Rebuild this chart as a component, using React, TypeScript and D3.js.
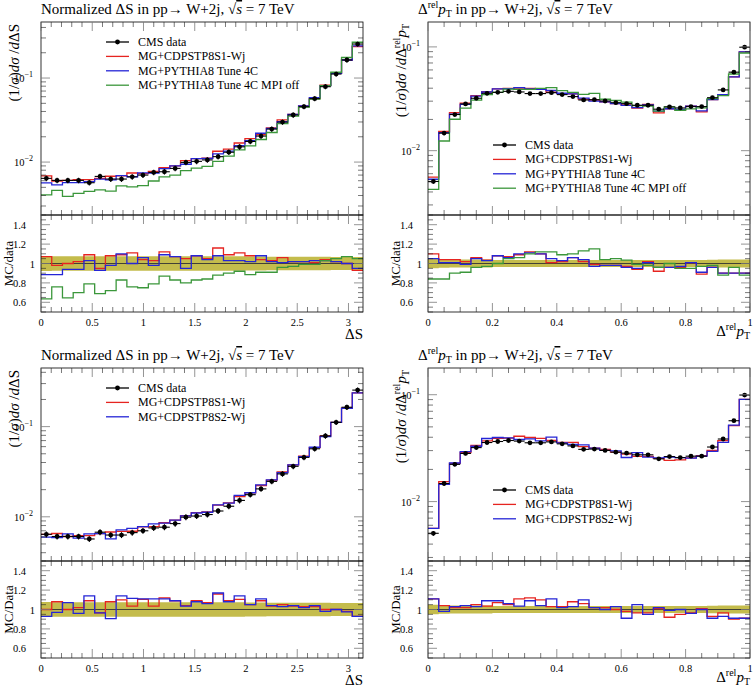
import React from 'react';
import * as d3 from 'd3';

const N_BINS = 30;
const DS_MAX = Math.PI;
const PT_MAX = 1;

// ---- Delta S distribution (normalized) ----
const DS_DATA = [0.0064, 0.00605, 0.00605, 0.00605, 0.00568, 0.00675, 0.00628, 0.00628, 0.00668, 0.0070,
  0.00753, 0.00767, 0.00841, 0.00991, 0.0102, 0.0106, 0.0116, 0.0131, 0.0152, 0.0176,
  0.0204, 0.0247, 0.0299, 0.0363, 0.0456, 0.0568, 0.0789, 0.1116, 0.164, 0.254];
const DS_ERR = [0.077, 0.075, 0.075, 0.075, 0.075, 0.075, 0.075, 0.075, 0.075, 0.075,
  0.075, 0.075, 0.075, 0.075, 0.075, 0.075, 0.075, 0.075, 0.075, 0.072,
  0.072, 0.07, 0.07, 0.07, 0.07, 0.07, 0.07, 0.068, 0.068, 0.068];
const DS_R_S1_TOP = [1.07, 0.98, 1.0, 1.02, 1.09, 0.95, 1.08, 1.09, 1.11, 1.04,
  1.03, 1.12, 1.07, 1.05, 1.08, 1.05, 1.16, 1.09, 1.11, 1.08,
  1.04, 1.03, 1.06, 1.02, 1.02, 1.01, 1.04, 1.02, 1.0, 0.93];
const DS_R_4C = [0.885, 0.885, 0.94, 0.94, 1.03, 0.93, 0.98, 1.1, 1.0, 1.06,
  0.98, 1.09, 1.07, 0.95, 1.08, 1.04, 1.08, 1.03, 1.03, 1.02,
  1.08, 1.02, 1.01, 1.02, 1.02, 1.03, 1.03, 1.02, 1.0, 0.95];
const DS_R_MPIOFF = [0.635, 0.76, 0.645, 0.70, 0.79, 0.69, 0.72, 0.83, 0.76, 0.75,
  0.79, 0.87, 0.83, 0.80, 0.83, 0.84, 0.88, 0.90, 0.92, 0.885,
  0.91, 0.91, 0.96, 0.97, 0.99, 0.99, 1.03, 1.05, 1.07, 1.05];
const DS_R_S1_BOT = [1.0, 1.08, 1.0, 1.02, 1.09, 0.965, 1.08, 1.10, 1.035, 1.105,
  1.035, 1.12, 1.09, 1.04, 1.09, 1.07, 1.16, 1.09, 1.105, 1.05,
  1.09, 1.035, 1.05, 1.035, 1.03, 1.03, 1.0, 1.0, 0.98, 0.93];
const DS_R_S2 = [0.93, 0.97, 1.07, 0.96, 1.14, 0.965, 0.905, 1.14, 1.115, 1.11,
  1.11, 1.11, 1.09, 1.035, 1.08, 1.06, 1.17, 1.08, 1.14, 1.05,
  1.11, 1.04, 1.03, 1.04, 1.02, 1.04, 0.98, 1.0, 0.975, 0.93];

// ---- Delta^rel pT distribution (normalized) ----
const PT_DATA = [0.00505, 0.01476, 0.0223, 0.0282, 0.0320, 0.0357, 0.0365, 0.0373, 0.0368, 0.0355,
  0.0355, 0.0362, 0.0347, 0.0332, 0.0308, 0.0310, 0.0301, 0.0290, 0.0284, 0.0274,
  0.0274, 0.0251, 0.0264, 0.0258, 0.0266, 0.0266, 0.0324, 0.0385, 0.0571, 0.0993];
const PT_ERR = [0.05, 0.045, 0.04, 0.04, 0.04, 0.04, 0.035, 0.035, 0.035, 0.035,
  0.035, 0.035, 0.035, 0.035, 0.035, 0.035, 0.035, 0.035, 0.035, 0.035,
  0.035, 0.035, 0.035, 0.035, 0.035, 0.035, 0.038, 0.04, 0.04, 0.04];
const PT_R_S1_TOP = [1.10, 1.04, 1.04, 1.02, 1.06, 1.035, 1.08, 1.07, 1.09, 1.12,
  1.10, 1.01, 1.02, 1.06, 1.02, 0.99, 0.98, 0.98, 0.97, 0.94,
  1.02, 0.92, 0.96, 0.96, 1.01, 0.89, 0.96, 0.90, 0.90, 0.90];
const PT_R_4C = [1.05, 1.01, 1.01, 0.99, 1.05, 1.03, 1.08, 1.06, 1.10, 1.11,
  1.10, 1.05, 1.03, 1.06, 1.04, 0.97, 0.98, 0.98, 0.96, 0.95,
  1.01, 0.96, 0.96, 0.97, 1.01, 0.91, 0.96, 0.90, 0.90, 0.90];
const PT_R_MPIOFF = [0.84, 0.84, 0.90, 0.91, 0.96, 0.97, 1.0, 1.05, 1.06, 1.10,
  1.12, 1.12, 1.09, 1.10, 1.13, 1.15, 1.04, 1.05, 1.035, 0.99,
  0.98, 0.96, 1.0, 0.95, 0.95, 0.97, 0.98, 0.88, 0.96, 0.88];
const PT_R_S1_BOT = [1.11, 1.04, 1.02, 1.02, 1.05, 1.035, 1.07, 1.05, 1.11, 1.12,
  1.10, 1.03, 1.03, 1.08, 1.06, 1.02, 1.02, 1.0, 0.98, 0.965,
  0.965, 1.01, 0.92, 0.95, 0.965, 1.01, 0.93, 0.965, 0.90, 0.91];
const PT_R_S2 = [1.11, 0.98, 1.03, 1.04, 1.03, 1.09, 1.09, 1.06, 1.035, 1.09,
  1.04, 1.11, 1.02, 1.03, 1.10, 1.02, 1.0, 1.03, 0.91, 1.05,
  0.95, 1.02, 0.99, 1.0, 0.96, 1.0, 0.91, 0.93, 0.91, 0.91];

const DS_TICKS = [0, 0.5, 1, 1.5, 2, 2.5, 3];
const DS_TICK_LABELS = ['0', '0.5', '1', '1.5', '2', '2.5', '3'];
const PT_TICKS = [0, 0.2, 0.4, 0.6, 0.8, 1];
const PT_TICK_LABELS = ['0', '0.2', '0.4', '0.6', '0.8', '1'];
const RATIO_TICKS = [0.6, 0.8, 1, 1.2, 1.4];
const RATIO_TICK_LABELS = ['0.6', '0.8', '1', '1.2', '1.4'];

const LEG_TOP = ['CMS data', 'MG+CDPSTP8S1-Wj', 'MG+PYTHIA8 Tune 4C', 'MG+PYTHIA8 Tune 4C MPI off'];
const LEG_BOT = ['CMS data', 'MG+CDPSTP8S1-Wj', 'MG+CDPSTP8S2-Wj'];

const FONT = "'Liberation Serif', 'DejaVu Serif', serif";
const RED = '#e62420';
const BLUE = '#2525d6';
const GREEN = '#3b973b';
const BAND = '#c4bc4c';

const W = 322, MH = 193, RH = 97;

type Series = { ratio: number[]; color: string };

function Panel(props: any) {
  const { id, x0, y0, xMax, majorStep, minorStep, xTicks, xTickLabels, yDomain, data, err, series,
    legend, legendX, legendY, kind, ratioLabel } = props;
  const x = d3.scaleLinear().domain([0, xMax]).range([x0, x0 + W]);
  const y = d3.scaleLog().domain(yDomain).range([y0 + MH, y0]);
  const r = d3.scaleLinear().domain([0.5, 1.5]).range([y0 + MH + RH, y0 + MH]);
  const edges = d3.range(N_BINS + 1).map(i => (i * xMax) / N_BINS);

  const step = (vals: number[], ys: (v: number) => number) => {
    let p = `M${x(edges[0])},${ys(vals[0])}`;
    vals.forEach((v, i) => {
      if (i > 0) p += `V${ys(v)}`;
      p += `H${x(edges[i + 1])}`;
    });
    return p;
  };

  let band = `M${x(edges[0])},${r(1 + err[0])}`;
  err.forEach((e: number, i: number) => {
    if (i > 0) band += `V${r(1 + e)}`;
    band += `H${x(edges[i + 1])}`;
  });
  for (let i = err.length - 1; i >= 0; i--) {
    band += `V${r(1 - err[i])}H${x(edges[i])}`;
  }
  band += 'Z';

  const majors = d3.range(0, xMax + 1e-9, majorStep);
  const minors = d3.range(0, xMax + 1e-9, minorStep).filter(v => !majors.some(m => Math.abs(m - v) < 1e-6));

  const [lo, hi] = yDomain;
  const logMajor: number[] = [];
  const logMinor: number[] = [];
  for (let k = Math.floor(Math.log10(lo)); k <= Math.ceil(Math.log10(hi)); k++) {
    for (let m = 1; m <= 9; m++) {
      const v = m * Math.pow(10, k);
      if (v >= lo && v <= hi) (m === 1 ? logMajor : logMinor).push(v);
    }
  }
  const rMinor = d3.range(0.5, 1.5001, 0.05).filter(v => !RATIO_TICKS.some(t => Math.abs(t - v) < 1e-6));

  const tickMaj = '#7a7a7a';
  const tickMin = '#222';
  const LMAJ = 9, LMIN = 5;
  const yTop = y0, yMid = y0 + MH, yBot = y0 + MH + RH;

  const mainSeries = series.map((s: Series) => s.ratio.map((q, i) => q * data[i]));

  const relPt = (
    <>
      Δ<tspan dy={-6} fontSize={10}>rel</tspan><tspan dy={6} fontStyle="italic">p</tspan><tspan dy={2.5} fontSize={10}>T</tspan>
    </>
  );

  return (
    <g>
      <defs>
        <clipPath id={`main-${id}`}><rect x={x0} y={y0} width={W} height={MH} /></clipPath>
        <clipPath id={`ratio-${id}`}><rect x={x0} y={yMid} width={W} height={RH} /></clipPath>
      </defs>
      <g clipPath={`url(#ratio-${id})`}>
        <path d={band} fill={BAND} stroke="none" />
        <line x1={x0} x2={x0 + W} y1={r(1)} y2={r(1)} stroke="#333" strokeWidth={0.9} />
        {series.map((s: Series, k: number) => (
          <path key={k} d={step(s.ratio, r)} fill="none" stroke={s.color} strokeWidth={1.3} />
        ))}
      </g>
      <g clipPath={`url(#main-${id})`}>
        {mainSeries.map((vals: number[], k: number) => (
          <path key={k} d={step(vals, y)} fill="none" stroke={series[k].color} strokeWidth={1.3} />
        ))}
        {data.map((v: number, i: number) => {
          const cx = x((edges[i] + edges[i + 1]) / 2);
          return (
            <g key={i}>
              <line x1={x(edges[i])} x2={x(edges[i + 1])} y1={y(v)} y2={y(v)} stroke="#000" strokeWidth={1.1} />
              <line x1={cx} x2={cx} y1={y(v * (1 - err[i]))} y2={y(v * (1 + err[i]))} stroke="#000" strokeWidth={1.1} />
              <circle cx={cx} cy={y(v)} r={2.4} fill="#000" />
            </g>
          );
        })}
      </g>
      <rect x={x0} y={yTop} width={W} height={MH} fill="none" stroke="#000" strokeWidth={0.8} />
      <rect x={x0} y={yMid} width={W} height={RH} fill="none" stroke="#000" strokeWidth={0.8} />
      {[yTop, yMid].map((yy, j) => (
        <g key={'xt' + j}>
          {majors.map((m, i) => (
            <line key={i} x1={x(m)} x2={x(m)} y1={yy} y2={yy + LMAJ} stroke={tickMaj} strokeWidth={0.8} />
          ))}
          {minors.map((m, i) => (
            <line key={i} x1={x(m)} x2={x(m)} y1={yy} y2={yy + LMIN} stroke={tickMin} strokeWidth={0.6} />
          ))}
        </g>
      ))}
      {[yMid, yBot].map((yy, j) => (
        <g key={'xb' + j}>
          {majors.map((m, i) => (
            <line key={i} x1={x(m)} x2={x(m)} y1={yy} y2={yy - LMAJ} stroke={tickMaj} strokeWidth={0.8} />
          ))}
          {minors.map((m, i) => (
            <line key={i} x1={x(m)} x2={x(m)} y1={yy} y2={yy - LMIN} stroke={tickMin} strokeWidth={0.6} />
          ))}
        </g>
      ))}
      {[[x0, 1], [x0 + W, -1]].map(([xx, dir], j) => (
        <g key={'yl' + j}>
          {logMajor.map((v, i) => (
            <line key={i} x1={xx} x2={xx + dir * LMAJ} y1={y(v)} y2={y(v)} stroke={tickMaj} strokeWidth={0.8} />
          ))}
          {logMinor.map((v, i) => (
            <line key={i} x1={xx} x2={xx + dir * LMIN} y1={y(v)} y2={y(v)} stroke={tickMin} strokeWidth={0.6} />
          ))}
          {RATIO_TICKS.map((v, i) => (
            <line key={'r' + i} x1={xx} x2={xx + dir * LMAJ} y1={r(v)} y2={r(v)} stroke={tickMaj} strokeWidth={0.8} />
          ))}
          {rMinor.map((v, i) => (
            <line key={'rm' + i} x1={xx} x2={xx + dir * LMIN} y1={r(v)} y2={r(v)} stroke={tickMin} strokeWidth={0.6} />
          ))}
        </g>
      ))}
      <g fontFamily={FONT} fontSize={10.5} fill="#000">
        {logMajor.map((v, i) => (
          <text key={i} x={x0 - 8} y={y(v) + 4} textAnchor="end">
            10<tspan dy={-5} fontSize={8}>{'\u2212' + String(-Math.round(Math.log10(v)))}</tspan>
          </text>
        ))}
        {RATIO_TICKS.map((v, i) => (
          <text key={'r' + i} x={RATIO_TICK_LABELS[i] === '1' ? x0 - 6 : x0 - 15} y={r(v) + 4} textAnchor="end">
            {RATIO_TICK_LABELS[i]}
          </text>
        ))}
        {xTicks.map((v: number, i: number) => (
          <text key={'x' + i} x={x(v)} y={yBot + 14} textAnchor="middle">{xTickLabels[i]}</text>
        ))}
      </g>
      {kind === 'ds' ? (
        <text x={x0 + W} y={yBot + 27} textAnchor="end" fontFamily={FONT} fontSize={15}>ΔS</text>
      ) : (
        <text x={x0 + W} y={yBot + 24} textAnchor="end" fontFamily={FONT} fontSize={15}>{relPt}</text>
      )}
      <text transform={`translate(${x0 - 22},${y0 + 2}) rotate(-90)`} textAnchor="end" fontFamily={FONT} fontSize={15}>
        (1/<tspan fontStyle="italic">σ</tspan>)<tspan fontStyle="italic">dσ</tspan> /<tspan fontStyle="italic">d</tspan>
        {kind === 'ds' ? <tspan>ΔS</tspan> : relPt}
      </text>
      <text transform={`translate(${x0 - 28},${r(1)}) rotate(-90)`} textAnchor="middle" fontFamily={FONT} fontSize={13}>
        {ratioLabel}
      </text>
      {kind === 'ds' ? (
        <text x={x0} y={y0 - 8} fontFamily={FONT} fontSize={15}>
          Normalized ΔS in pp→ W+2j, √<tspan style={{ textDecoration: 'overline' }} fontStyle="italic">s</tspan> = 7 TeV
        </text>
      ) : (
        <text x={x0 - 10} y={y0 - 8} fontFamily={FONT} fontSize={15}>
          Δ<tspan dy={-6} fontSize={10}>rel</tspan><tspan dy={6} fontStyle="italic">p</tspan><tspan dy={2.5} fontSize={10}>T</tspan><tspan dy={-2.5}> in pp→ W+2j, √</tspan><tspan fontStyle="italic" style={{ textDecoration: 'overline' }}>s</tspan> = 7 TeV
        </text>
      )}
      <g fontFamily={FONT} fontSize={12}>
        {legend.map((lab: string, i: number) => {
          const ly = legendY + i * 14.4;
          const col = i === 0 ? '#000' : series[i - 1].color;
          return (
            <g key={i}>
              <line x1={legendX} x2={legendX + 23} y1={ly} y2={ly} stroke={col} strokeWidth={1.3} />
              {i === 0 && <circle cx={legendX + 11.5} cy={ly} r={2.4} fill="#000" />}
              <text x={legendX + 32} y={ly + 4}>{lab}</text>
            </g>
          );
        })}
      </g>
    </g>
  );
}

export default function App() {
  const LX = 41, RX = 428, TY = 22, BY = 368;
  return (
    <svg width={754} height={687} style={{ position: 'absolute', left: 0, top: 0, background: '#fff' }}
      xmlns="http://www.w3.org/2000/svg">
      <rect x={0} y={0} width={754} height={687} fill="#fff" />
      <Panel id="tl" kind="ds" x0={LX} y0={TY} xMax={DS_MAX} majorStep={0.5} minorStep={0.1}
        xTicks={DS_TICKS} xTickLabels={DS_TICK_LABELS} yDomain={[Math.pow(10, -2.63), Math.pow(10, -0.333)]}
        data={DS_DATA} err={DS_ERR}
        series={[{ ratio: DS_R_S1_TOP, color: RED }, { ratio: DS_R_4C, color: BLUE }, { ratio: DS_R_MPIOFF, color: GREEN }]}
        legend={LEG_TOP} legendX={LX + 65} legendY={TY + 20} ratioLabel="MC/data" />
      <Panel id="tr" kind="pt" x0={RX} y0={TY} xMax={PT_MAX} majorStep={0.2} minorStep={0.05}
        xTicks={PT_TICKS} xTickLabels={PT_TICK_LABELS} yDomain={[Math.pow(10, -2.62), Math.pow(10, -0.76)]}
        data={PT_DATA} err={PT_ERR}
        series={[{ ratio: PT_R_S1_TOP, color: RED }, { ratio: PT_R_4C, color: BLUE }, { ratio: PT_R_MPIOFF, color: GREEN }]}
        legend={LEG_TOP} legendX={RX + 65} legendY={TY + 123} ratioLabel="MC/data" />
      <Panel id="bl" kind="ds" x0={LX} y0={BY} xMax={DS_MAX} majorStep={0.5} minorStep={0.1}
        xTicks={DS_TICKS} xTickLabels={DS_TICK_LABELS} yDomain={[Math.pow(10, -2.49), Math.pow(10, -0.35)]}
        data={DS_DATA} err={DS_ERR}
        series={[{ ratio: DS_R_S1_BOT, color: RED }, { ratio: DS_R_S2, color: BLUE }]}
        legend={LEG_BOT} legendX={LX + 65} legendY={BY + 20} ratioLabel="MC/Data" />
      <Panel id="br" kind="pt" x0={RX} y0={BY} xMax={PT_MAX} majorStep={0.2} minorStep={0.05}
        xTicks={PT_TICKS} xTickLabels={PT_TICK_LABELS} yDomain={[Math.pow(10, -2.556), Math.pow(10, -0.75)]}
        data={PT_DATA} err={PT_ERR}
        series={[{ ratio: PT_R_S1_BOT, color: RED }, { ratio: PT_R_S2, color: BLUE }]}
        legend={LEG_BOT} legendX={RX + 65} legendY={BY + 122} ratioLabel="MC/Data" />
    </svg>
  );
}
